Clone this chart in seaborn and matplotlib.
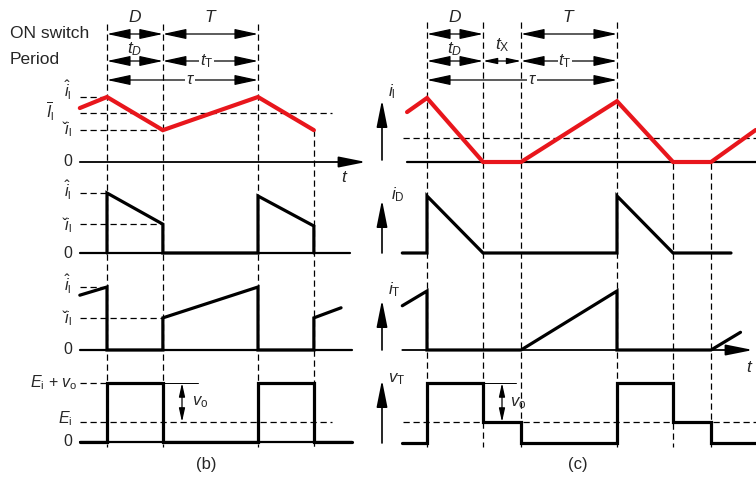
import matplotlib
matplotlib.use("Agg")
import matplotlib.pyplot as plt
import seaborn as sns

sns.set_style("white")
plt.rcParams["font.family"] = ["Liberation Sans", "DejaVu Sans"]
plt.rcParams["mathtext.fontset"] = "custom"
plt.rcParams["mathtext.rm"] = "Liberation Sans"
plt.rcParams["mathtext.it"] = "Liberation Sans:italic"
plt.rcParams["mathtext.bf"] = "Liberation Sans:bold"

# ---------------- data (time in units of the period tau, levels normalised) -------------
# panel (b): continuous conduction
b_tD = 0.37
b_il_t = [-0.18, 0.0, 0.37, 1.0, 1.37]
b_il_v = [0.83, 1.0, 0.49, 1.0, 0.49]
b_il_mean = 0.75
b_iD_t = [0.0, 0.0, 0.37, 0.37, 1.0, 1.0, 1.37, 1.37]
b_iD_v = [0.0, 1.0, 0.48, 0.0, 0.0, 0.95, 0.45, 0.0]
b_iT_t = [-0.18, 0.0, 0.0, 0.37, 0.37, 1.0, 1.0, 1.37, 1.37, 1.55]
b_iT_v = [0.87, 1.0, 0.0, 0.0, 0.51, 1.0, 0.0, 0.0, 0.51, 0.67]
b_vT_t = [-0.18, 0.0, 0.0, 0.37, 0.37, 1.0, 1.0, 1.37, 1.37, 1.62]
b_vT_v = [0.0, 0.0, 1.0, 1.0, 0.0, 0.0, 1.0, 1.0, 0.0, 0.0]
b_Ei = 0.34
b_marks = [0.0, 0.37, 1.0, 1.37]

# panel (c): discontinuous conduction
c_tD = 0.295
c_tX = 0.495
c_il_t = [-0.105, 0.0, 0.295, 0.495, 1.0, 1.295, 1.495, 1.73]
c_il_v = [0.78, 1.0, 0.0, 0.0, 0.95, 0.0, 0.0, 0.5]
c_il_mean = 0.375
c_iD_t = [-0.13, 0.0, 0.0, 0.295, 1.0, 1.0, 1.295, 1.6]
c_iD_v = [0.0, 0.0, 1.0, 0.0, 0.0, 1.0, 0.0, 0.0]
c_iT_t = [-0.13, 0.0, 0.0, 0.495, 1.0, 1.0, 1.495, 1.65]
c_iT_v = [0.75, 1.0, 0.0, 0.0, 1.0, 0.0, 0.0, 0.3]
c_vT_t = [-0.13, 0.0, 0.0, 0.295, 0.295, 0.495, 0.495, 1.0, 1.0, 1.295, 1.295, 1.495, 1.495, 1.73]
c_vT_v = [0.0, 0.0, 1.0, 1.0, 0.35, 0.35, 0.0, 0.0, 1.0, 1.0, 0.35, 0.35, 0.0, 0.0]
c_Ei = 0.35
c_marks_top = [0.0, 0.295, 0.495, 1.0]
c_marks_low = [1.295, 1.495]

RED = "#e8161c"
W, H = 756.0, 483.0
DASH = (0, (5, 3))

fig = plt.figure(figsize=(7.56, 4.83), dpi=100)


def panel_axes(left, right, origin, tau, ylim):
    ax = fig.add_axes([left / W, 0, (right - left) / W, 1])
    ax.set_xlim((left - origin) / tau, (right - origin) / tau)
    ax.set_ylim(*ylim)
    ax.axis("off")
    ax.patch.set_alpha(0)
    return ax


def row_axes(left, right, origin, tau, y0, scale):
    return panel_axes(left, right, origin, tau, ((y0 - H) / scale, y0 / scale))


def wave(ax, t, v, color="black", lw=2.3):
    sns.lineplot(x=t, y=v, estimator=None, sort=False, ax=ax, color=color,
                 linewidth=lw, zorder=4, solid_joinstyle="miter")


def hdash(ax, t0, t1, v):
    ax.plot([t0, t1], [v, v], ls=DASH, lw=0.9, color="black", zorder=2)


def dim(ax, t0, t1, y, scale=12):
    ax.annotate("", xy=(t1, y), xytext=(t0, y),
                arrowprops=dict(arrowstyle="<|-|>,head_length=1.2,head_width=0.26",
                                color="black", lw=0.9, shrinkA=0, shrinkB=0,
                                mutation_scale=scale))


def inline(ax, t, y, s, size=12):
    ax.text(t, y, s, ha="center", va="center", fontsize=size,
            bbox=dict(facecolor="white", edgecolor="none", pad=0.5), zorder=5)


def axis_arrow(ax, t0, t1, v):
    ax.annotate("", xy=(t1, v), xytext=(t0, v),
                arrowprops=dict(arrowstyle="-|>,head_length=1.5,head_width=0.3",
                                color="black", lw=1.3, shrinkA=0, shrinkB=0,
                                mutation_scale=11))


lab = dict(fontsize=11.5, ha="right", va="center")
big = dict(fontsize=12.5, ha="center", va="center")

# ======================= panel (b) =======================
bl, br, bo, bt = 0, 378, 107, 151
ov = panel_axes(bl, br, bo, bt, (H, 0))
px = lambda p: (p - bo) / bt

for m in b_marks:
    top = 130 if m > 1.2 else 24
    ov.plot([m, m], [top, 447], ls=DASH, lw=0.9, color="black", zorder=1)

ov.text(px(10), 33, "ON switch", fontsize=12.5, ha="left", va="center")
ov.text(px(10), 60, "Period", fontsize=12.5, ha="left", va="center")
dim(ov, 0, b_tD, 34)
dim(ov, b_tD, 1.0, 34)
ov.text(b_tD / 2, 17, r"$D$", **big)
ov.text((1 + b_tD) / 2, 17, r"$T$", **big)
dim(ov, 0, b_tD, 61)
dim(ov, b_tD, 1.0, 61)
ov.text(b_tD / 2, 49, r"$t_D$", **big)
inline(ov, 0.66, 61, r"$t_\mathrm{T}$")
dim(ov, 0, 1.0, 80)
inline(ov, 0.55, 79, r"$\tau$")
ov.text(px(345), 178, r"$t$", **big)
ov.text(px(206), 465, "(b)", fontsize=12, ha="center", va="center")

# i_l
ax = row_axes(bl, br, bo, bt, 162, 65)
axis_arrow(ax, -0.18, px(366), 0)
hdash(ax, -0.18, 0, 1.0)
hdash(ax, -0.18, b_tD, 0.49)
hdash(ax, -0.18, px(332), b_il_mean)
wave(ax, b_il_t, b_il_v, color=RED, lw=3.0)
ax.text(px(72), 1.1, r"$\hat{i}_\mathrm{l}$", **lab)
ax.text(px(54), b_il_mean + 0.02, r"$\overline{I}_\mathrm{l}$", **lab)
ax.text(px(72), 0.5, r"$\check{i}_\mathrm{l}$", **lab)
ax.text(px(72), 0, "0", **lab)

# i_D
ax = row_axes(bl, br, bo, bt, 253, 60)
ax.plot([-0.18, px(350)], [0, 0], color="black", lw=1.6, zorder=3)
hdash(ax, -0.18, 0, 1.0)
hdash(ax, -0.18, b_tD, 0.48)
wave(ax, b_iD_t, b_iD_v)
ax.text(px(72), 1.04, r"$\hat{i}_\mathrm{l}$", **lab)
ax.text(px(72), 0.47, r"$\check{i}_\mathrm{l}$", **lab)
ax.text(px(72), 0, "0", **lab)

# i_T
ax = row_axes(bl, br, bo, bt, 350, 63)
ax.plot([-0.18, px(352)], [0, 0], color="black", lw=1.6, zorder=3)
hdash(ax, -0.18, 0, 1.0)
hdash(ax, -0.18, b_tD, 0.51)
wave(ax, b_iT_t, b_iT_v)
ax.text(px(72), 1.04, r"$\hat{i}_\mathrm{l}$", **lab)
ax.text(px(72), 0.5, r"$\check{i}_\mathrm{l}$", **lab)
ax.text(px(72), 0, "0", **lab)

# v_T
ax = row_axes(bl, br, bo, bt, 442, 59)
ax.plot([-0.18, px(352)], [0, 0], color="black", lw=1.6, zorder=3)
hdash(ax, -0.18, 0, 1.0)
hdash(ax, -0.18, px(332), b_Ei)
ax.plot([b_tD, px(198)], [1, 1], color="black", lw=0.7)
ax.annotate("", xy=(px(182), b_Ei), xytext=(px(182), 1.0),
            arrowprops=dict(arrowstyle="<|-|>,head_length=0.9,head_width=0.2",
                            color="black", lw=0.9, shrinkA=0, shrinkB=0, mutation_scale=9))
wave(ax, b_vT_t, b_vT_v)
ax.text(px(78), 1.0, r"$E_\mathrm{i}$ + $v_\mathrm{o}$", **lab)
ax.text(px(72), b_Ei + 0.05, r"$E_\mathrm{i}$", **lab)
ax.text(px(72), 0, "0", **lab)
ax.text(px(192), 0.67, r"$v_\mathrm{o}$", fontsize=12, ha="left", va="center")

# ======================= panel (c) =======================
cl, cr, co, ct = 378, 756, 427, 190
ov = panel_axes(cl, cr, co, ct, (H, 0))
qx = lambda p: (p - co) / ct

for m in c_marks_top:
    ov.plot([m, m], [22, 447], ls=DASH, lw=0.9, color="black", zorder=1)
for m in c_marks_low:
    ov.plot([m, m], [163, 447], ls=DASH, lw=0.9, color="black", zorder=1)

dim(ov, 0, c_tD, 34)
dim(ov, c_tX, 1.0, 34)
ov.text(c_tD / 2, 17, r"$D$", **big)
ov.text((1 + c_tX) / 2, 17, r"$T$", **big)
dim(ov, 0, c_tD, 61)
dim(ov, c_tD, c_tX, 61, scale=7)
dim(ov, c_tX, 1.0, 61)
ov.text(c_tD / 2, 49, r"$t_D$", **big)
ov.text((c_tD + c_tX) / 2, 45, r"$t_\mathrm{X}$", **big)
inline(ov, 0.726, 61, r"$t_\mathrm{T}$")
dim(ov, 0, 1.0, 80)
inline(ov, 0.553, 79, r"$\tau$")
ov.text(qx(750), 368, r"$t$", **big)
ov.text(qx(578), 465, "(c)", fontsize=12, ha="center", va="center")

for y_lo, y_hi, s, lx, ly in [(160, 100, r"$i_\mathrm{l}$", 392, 92),
                               (253, 200, r"$i_\mathrm{D}$", 398, 195),
                               (350, 300, r"$i_\mathrm{T}$", 394, 290),
                               (443, 380, r"$v_\mathrm{T}$", 397, 379)]:
    ov.annotate("", xy=(qx(382), y_hi), xytext=(qx(382), y_lo),
                arrowprops=dict(arrowstyle="-|>,head_length=1.5,head_width=0.3",
                                color="black", lw=1.2, shrinkA=0, shrinkB=0,
                                mutation_scale=11))
    ov.text(qx(lx), ly, s, fontsize=12, ha="center", va="center")

# i_l
ax = row_axes(cl, cr, co, ct, 162, 64)
ax.plot([c_il_t[0], qx(756)], [0, 0], color="black", lw=1.6, zorder=3)
hdash(ax, qx(403), qx(756), c_il_mean)
wave(ax, c_il_t, c_il_v, color=RED, lw=3.0)

# i_D
ax = row_axes(cl, cr, co, ct, 253, 57)
wave(ax, c_iD_t, c_iD_v)

# i_T
ax = row_axes(cl, cr, co, ct, 350, 59)
axis_arrow(ax, c_iT_t[0], qx(753), 0)
wave(ax, c_iT_t, c_iT_v)

# v_T
ax = row_axes(cl, cr, co, ct, 443, 60)
hdash(ax, qx(403), qx(756), c_Ei)
ax.plot([c_tD, qx(516)], [1, 1], color="black", lw=0.7)
ax.annotate("", xy=(qx(502), c_Ei), xytext=(qx(502), 1.0),
            arrowprops=dict(arrowstyle="<|-|>,head_length=0.9,head_width=0.2",
                            color="black", lw=0.9, shrinkA=0, shrinkB=0, mutation_scale=9))
wave(ax, c_vT_t, c_vT_v)
ax.text(qx(510), 0.67, r"$v_\mathrm{o}$", fontsize=12, ha="left", va="center")

fig.savefig("out.png", dpi=100, facecolor="white")
